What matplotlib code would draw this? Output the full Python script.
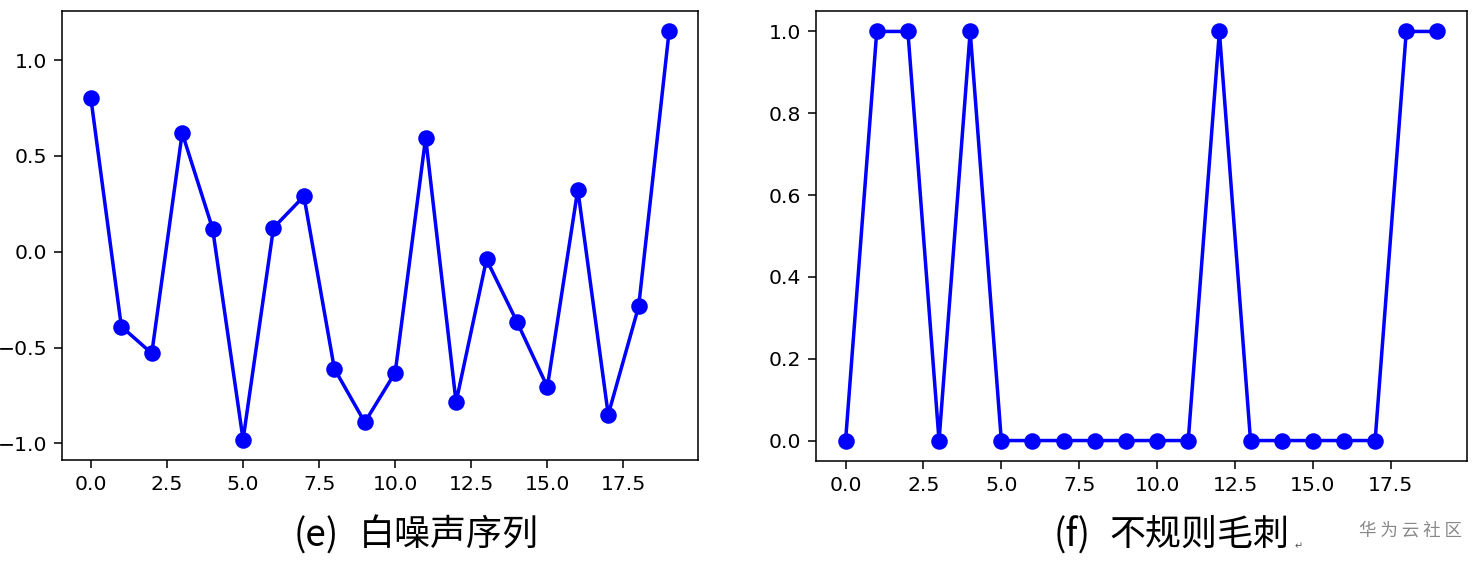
import numpy as np

import matplotlib
matplotlib.use('agg')

from matplotlib import pyplot as plt

# white noise series (e)
noise_x = list(range(20))
noise_y = [0.80, -0.39, -0.53, 0.62, 0.12, -0.98, 0.125, 0.29, -0.61, -0.89,
           -0.63, 0.595, -0.785, -0.04, -0.365, -0.705, 0.325, -0.85, -0.285, 1.15]

# irregular spikes (f)
spike_x = list(range(20))
spike_y = [0, 1, 1, 0, 1, 0, 0, 0, 0, 0, 0, 0, 1, 0, 0, 0, 0, 0, 1, 1]

caption_e = ("(e)", "白噪声序列")
caption_f = ("(f)", "不规则毛刺")
watermark = "华 为 云 社 区"

W, H = 1475, 561
fig = plt.figure(figsize=(W / 140, H / 140), dpi=140)

ax1 = fig.add_axes([62 / W, 1 - 460 / H, 636 / W, 449 / H])
ax1.plot(noise_x, noise_y, "bo-", linewidth=1.8, markersize=7.5)

ax2 = fig.add_axes([816 / W, 1 - 461 / H, 651 / W, 450 / H])
ax2.plot(spike_x, spike_y, "bo-", linewidth=1.8, markersize=7.5)

for ax in (ax1, ax2):
    ax.tick_params(labelsize=10.5, length=4)

cjk = ["Noto Sans CJK SC", "DejaVu Sans"]
yc = 1 - 536 / H
fig.text(294 / W, yc, caption_e[0], fontsize=19, family=cjk, va="center", ha="left")
fig.text(359 / W, yc, caption_e[1], fontsize=18.5, family=cjk, va="center", ha="left")
fig.text(1054 / W, yc, caption_f[0], fontsize=19, family=cjk, va="center", ha="left")
fig.text(1109 / W, yc, caption_f[1], fontsize=18.5, family=cjk, va="center", ha="left")
fig.text(1295 / W, 1 - 546 / H, "↵", fontsize=5, family=["DejaVu Sans"], color="#555555",
         va="center", ha="left")
fig.text(1462 / W, 1 - 531 / H, watermark, fontsize=9, family=cjk, color="#888888",
         va="center", ha="right")

fig.savefig("out.png", dpi=140)
